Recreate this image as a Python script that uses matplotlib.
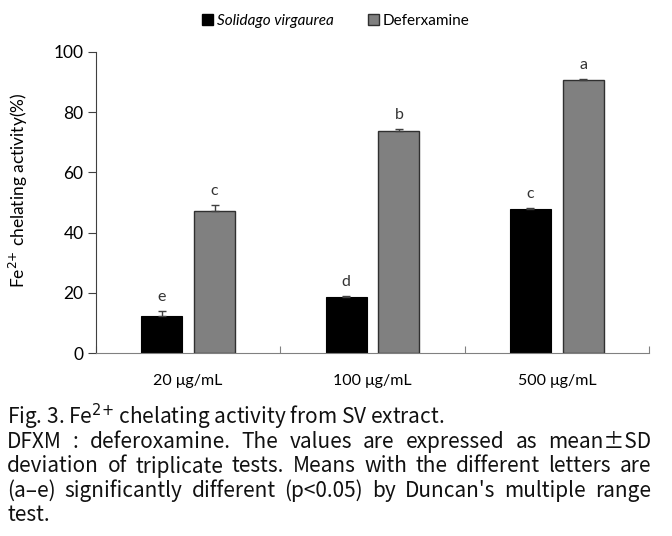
import matplotlib
matplotlib.use("Agg")
import matplotlib.pyplot as plt
import numpy as np
from matplotlib.patches import Patch

# Дані
doses = ["20 \u03bcg/mL", "100 \u03bcg/mL", "500 \u03bcg/mL"]
sv_vals = [12.4, 18.5, 47.7]
sv_err = [1.6, 0.3, 0.5]
sv_letters = ["e", "d", "c"]
dfx_vals = [47.2, 73.8, 90.6]
dfx_err = [2.1, 0.5, 0.3]
dfx_letters = ["c", "b", "a"]
series_names = ["Solidago virgaurea", "Deferxamine"]

caption_title = "Fig. 3. Fe$^{2{+}}$ chelating activity from SV extract."
caption_lines = [
    "DFXM : deferoxamine. The values are expressed as mean\u00b1SD",
    "deviation of triplicate tests. Means with the different letters are",
    "(a\u2013e) significantly different (p<0.05) by Duncan's multiple range",
]
caption_last = "test."

W, H = 672, 536
plt.rcParams["font.family"] = ["Lato", "DejaVu Sans"]
plt.rcParams["mathtext.fontset"] = "dejavusans"


def px(x, y):
    return x / W, 1 - y / H


def justify(fig, text, y, x0, x1, **kw):
    # розтягування рядка по ширині
    words = text.split(" ")
    texts = [fig.text(0, 1 - y / H, w, va="center", ha="left", **kw) for w in words]
    fig.canvas.draw()
    r = fig.canvas.get_renderer()
    widths = [t.get_window_extent(r).width for t in texts]
    gap = (x1 - x0 - sum(widths)) / (len(words) - 1)
    x = x0
    for t, w in zip(texts, widths):
        t.set_x(x / W)
        x += w + gap


def main():
    fig = plt.figure(figsize=(W / 100, H / 100), dpi=100)
    ax = fig.add_axes([96 / W, 1 - 353 / H, 553 / W, 301 / H])

    x = np.arange(len(doses))
    off, bw = 0.143, 0.223
    ax.bar(x - off, sv_vals, bw, color="black", edgecolor="black", linewidth=0.8,
           yerr=[np.zeros(3), sv_err], error_kw=dict(ecolor="#404040", capsize=3, elinewidth=1, capthick=1))
    ax.bar(x + off, dfx_vals, bw, color="#808080", edgecolor="#303030", linewidth=1,
           yerr=[np.zeros(3), dfx_err], error_kw=dict(ecolor="#404040", capsize=3, elinewidth=1, capthick=1))

    for i in range(len(doses)):
        ax.annotate(sv_letters[i], (x[i] - off, sv_vals[i] + sv_err[i]), xytext=(0, 5),
                    textcoords="offset points", ha="center", va="bottom", fontsize=11.5, color="#333333")
        ax.annotate(dfx_letters[i], (x[i] + off, dfx_vals[i] + dfx_err[i]), xytext=(0, 5),
                    textcoords="offset points", ha="center", va="bottom", fontsize=11.5, color="#333333")

    ax.set_xlim(-0.5, 2.5)
    ax.set_ylim(0, 100)
    ax.set_yticks(np.arange(0, 101, 20))
    ax.set_xticks([-0.5, 0.5, 1.5, 2.5])
    ax.set_xticklabels([])
    ax.set_xticks(x, minor=True)
    ax.set_xticklabels(doses, minor=True, fontsize=11.5)
    ax.tick_params(axis="x", which="major", direction="in", length=5, color="#808080")
    ax.tick_params(axis="x", which="minor", length=0, pad=15)
    ax.tick_params(axis="y", direction="out", length=6, labelsize=12.5, color="#404040", pad=3)

    for s in ["top", "right"]:
        ax.spines[s].set_visible(False)
    ax.spines["left"].set_color("#404040")
    ax.spines["bottom"].set_color("#808080")

    ax.set_ylabel("Fe$^{2{+}}$ chelating activity(%)", fontsize=12.5)
    ax.yaxis.set_label_coords(-0.12, 0.54)

    handles = [Patch(facecolor="black", edgecolor="black"),
               Patch(facecolor="#808080", edgecolor="#303030")]
    leg = fig.legend(handles, series_names, loc="center", bbox_to_anchor=px(336, 21), ncol=2,
                     frameon=False, fontsize=11, handlelength=0.7, handleheight=0.7,
                     handletextpad=0.3, columnspacing=2.2)
    leg.get_texts()[0].set_style("italic")

    cap_kw = dict(fontsize=15, family=["Noto Sans CJK KR", "DejaVu Sans"], color="#111111")
    fig.text(*px(7, 417), caption_title, va="center", ha="left", **cap_kw)
    for i, line in enumerate(caption_lines):
        justify(fig, line, 442 + 24.5 * i, 7, 651, **cap_kw)
    fig.text(*px(7, 515), caption_last, va="center", ha="left", **cap_kw)

    fig.savefig("out.png", dpi=100)


if __name__ == "__main__":
    main()
